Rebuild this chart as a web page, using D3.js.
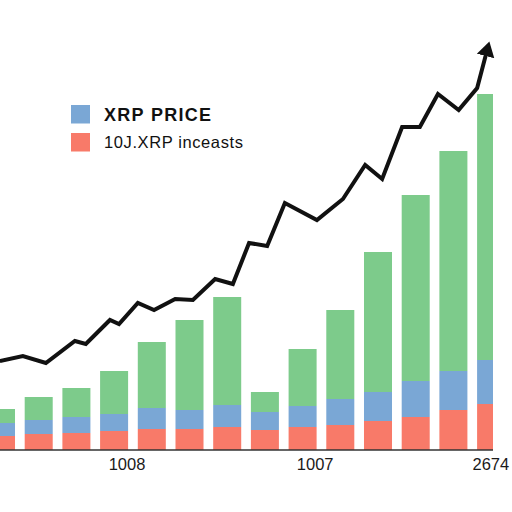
<!DOCTYPE html>
<html>
<head>
<meta charset="utf-8">
<title>XRP price</title>
<script src="https://d3js.org/d3.v7.min.js"></script>
<style>
  html, body { margin: 0; padding: 0; background: #fff; }
  svg { display: block; }
  .tick text { font-family: "Liberation Sans", Arial, sans-serif; font-size: 16.5px; fill: #1a1a1a; }
  .legend text { font-family: "Liberation Sans", Arial, sans-serif; fill: #111; }
</style>
</head>
<body>
<svg id="chart" width="512" height="512"></svg>
<script>
// bar segments (stacked bottom to top), 14 periods
var periods = d3.range(14);
var redVals   = [14, 16, 17, 19, 21, 21, 23, 20, 23, 25, 29, 33, 40, 46];
var blueVals  = [13, 14, 16, 17, 21, 19, 22, 18, 21, 26, 29, 36, 39, 44];
var greenVals = [14, 23, 29, 43, 66, 90, 108, 20, 57, 89, 140, 186, 220, 266];

// price line, x given in period units
var lineT = [-0.03, 0.58, 1.19, 1.96, 2.25, 2.89, 3.13, 3.63, 4.06, 4.62, 5.09, 5.68, 6.15,
             6.58, 7.06, 7.53, 8.38, 9.07, 9.66, 10.11, 10.64, 11.11, 11.59, 12.14, 12.63, 12.86];
var lineV = [89, 94, 87, 109, 106, 130, 126, 147, 140, 151, 150, 171, 166,
             207, 204, 247, 230, 251, 285, 271, 323, 323, 356, 340, 362, 395];

// x tick labels and where they sit
var tickPos = [3.33, 8.32, 12.98];
var tickLabels = ["1008", "1007", "2674"];

var legendLabels = ["XRP PRICE", "10J.XRP inceasts"];
var colors = { red: "#f87a69", blue: "#7aa7d5", green: "#7dcb8b" };

var svg = d3.select("#chart");
var plotRight = 493, baseY = 450;

var x = d3.scaleLinear().domain([0, 13]).range([1, 491.1]);
var y = d3.scaleLinear().domain([0, 450]).range([baseY, 0]);
var barW = (x(1) - x(0)) * 0.743;

// stack the three series
var rows = periods.map(function(i) {
  return { i: i, red: redVals[i], blue: blueVals[i], green: greenVals[i] };
});
var series = d3.stack().keys(["red", "blue", "green"])(rows);

svg.append("clipPath").attr("id", "plot-clip")
  .append("rect").attr("x", 0).attr("y", 0).attr("width", plotRight).attr("height", baseY);

var bars = svg.append("g").attr("clip-path", "url(#plot-clip)");
bars.selectAll("g.layer")
  .data(series)
  .enter().append("g")
    .attr("class", "layer")
    .attr("fill", function(d) { return colors[d.key]; })
  .selectAll("rect")
  .data(function(d) { return d; })
  .enter().append("rect")
    .attr("x", function(d) { return x(d.data.i) - barW / 2; })
    .attr("width", barW)
    .attr("y", function(d) { return y(d[1]); })
    .attr("height", function(d) { return y(d[0]) - y(d[1]); });

// baseline
svg.append("line")
  .attr("x1", 0).attr("x2", plotRight)
  .attr("y1", y(0)).attr("y2", y(0))
  .attr("stroke", "#333").attr("stroke-width", 1.5);

// x axis labels
var xAxis = d3.axisBottom(x)
  .tickValues(tickPos)
  .tickFormat(function(d, i) { return tickLabels[i]; })
  .tickSize(0)
  .tickPadding(8.3);
var gx = svg.append("g").attr("transform", "translate(0," + baseY + ")").call(xAxis);
gx.select(".domain").remove();
gx.selectAll("text").attr("font-family", null).attr("font-size", null);

// arrow head for the price line
svg.append("defs").append("marker")
  .attr("id", "arrow")
  .attr("markerUnits", "userSpaceOnUse")
  .attr("markerWidth", 20).attr("markerHeight", 20)
  .attr("viewBox", "0 -10 20 20")
  .attr("refX", 1).attr("refY", 0)
  .attr("orient", "auto")
  .append("path")
    .attr("d", "M0,-9L15,0L0,9Z")
    .attr("fill", "#111");

var line = d3.line()
  .x(function(d, i) { return x(lineT[i]); })
  .y(function(d) { return y(d); });

svg.append("path")
  .datum(lineV)
  .attr("d", line)
  .attr("fill", "none")
  .attr("stroke", "#111")
  .attr("stroke-width", 4)
  .attr("stroke-linejoin", "miter")
  .attr("marker-end", "url(#arrow)");

// legend
var legend = svg.append("g").attr("class", "legend");
var legendColors = [colors.blue, colors.red];
legend.selectAll("rect")
  .data(legendLabels)
  .enter().append("rect")
    .attr("x", 71).attr("y", function(d, i) { return 105 + i * 28; })
    .attr("width", 19).attr("height", 18.5)
    .attr("fill", function(d, i) { return legendColors[i]; });
legend.selectAll("text")
  .data(legendLabels)
  .enter().append("text")
    .attr("x", 104).attr("y", function(d, i) { return i === 0 ? 121 : 147.5; })
    .attr("font-size", function(d, i) { return i === 0 ? 18 : 16.5; })
    .attr("font-weight", function(d, i) { return i === 0 ? "bold" : "normal"; })
    .attr("letter-spacing", function(d, i) { return i === 0 ? 1.3 : 0.6; })
    .text(function(d) { return d; });
</script>
</body>
</html>
